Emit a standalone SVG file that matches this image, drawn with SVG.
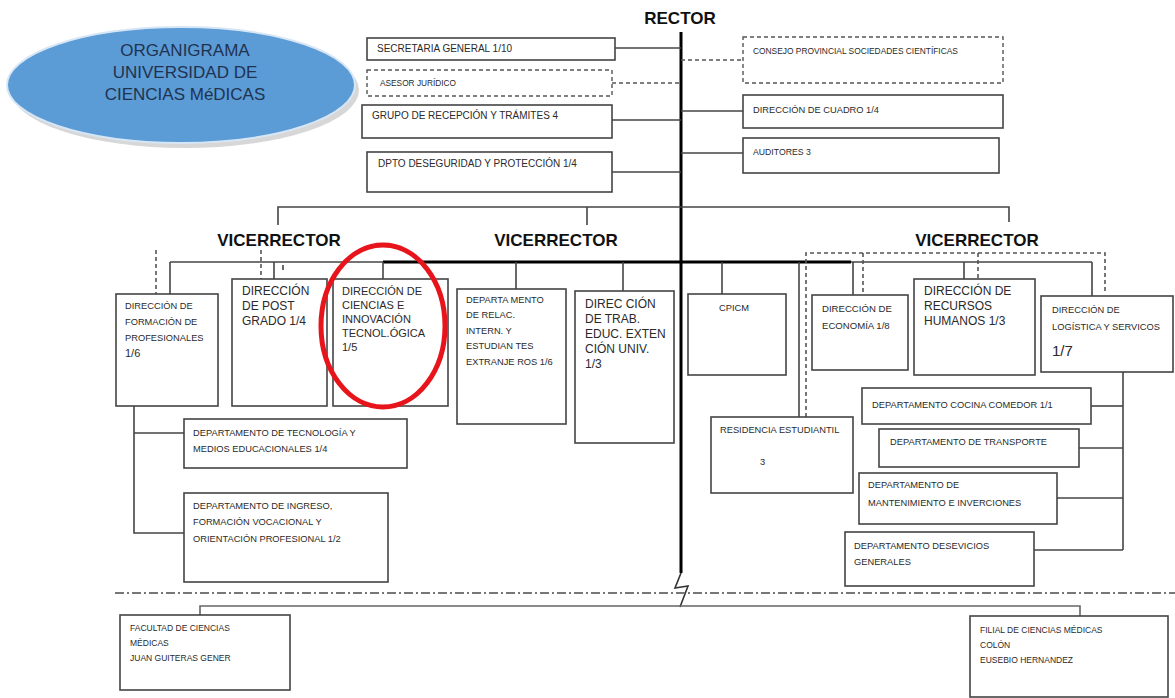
<svg xmlns="http://www.w3.org/2000/svg" width="1175" height="698" viewBox="0 0 1175 698">
<defs>
<style>
.bx{fill:#fff;stroke:#444;stroke-width:1.6}
.dbx{fill:#fff;stroke:#555;stroke-width:1.4;stroke-dasharray:4 3}
.t{font-family:"Liberation Sans",Arial,sans-serif;font-size:9.3px;fill:#2a2a2a}
.tm{font-family:"Liberation Sans",Arial,sans-serif;font-size:11px;fill:#2a2a2a}
.tl{font-family:"Liberation Sans",Arial,sans-serif;font-size:12px;fill:#2a2a2a}
.h{font-family:"Liberation Sans",Arial,sans-serif;font-size:17px;font-weight:bold;fill:#111;text-anchor:middle}
.c{fill:none;stroke:#444;stroke-width:1.6}
.cd{fill:none;stroke:#555;stroke-width:1.6;stroke-dasharray:4 3}
.cth{fill:none;stroke:#000;stroke-width:3}
</style>
</defs>
<rect width="1175" height="698" fill="#fff"/>

<g id="title">
<ellipse cx="185" cy="90" rx="174" ry="58" fill="#b0b0b0" opacity="0.5"/>
<ellipse cx="181" cy="85" rx="174" ry="58" fill="#5b9bd6" stroke="#d7e6f5" stroke-width="2"/>
<text x="185" y="56" text-anchor="middle" font-family="Liberation Sans, Arial, sans-serif" font-size="17" fill="#1f3350">ORGANIGRAMA</text>
<text x="185" y="78" text-anchor="middle" font-family="Liberation Sans, Arial, sans-serif" font-size="17" fill="#1f3350">UNIVERSIDAD DE</text>
<text x="185" y="100" text-anchor="middle" font-family="Liberation Sans, Arial, sans-serif" font-size="17" fill="#1f3350">CIENCIAS MéDICAS</text>
</g>

<g id="connectors">
<line class="cth" x1="681" y1="32" x2="681" y2="573"/>
<polyline class="c" points="681,573 675,588 688,586 680,607" style="stroke:#333"/>
<line class="c" x1="615" y1="48" x2="681" y2="48"/>
<line class="cd" x1="612" y1="83" x2="681" y2="83"/>
<line class="c" x1="612" y1="120" x2="681" y2="120"/>
<line class="c" x1="612" y1="172" x2="681" y2="172"/>
<line class="cd" x1="681" y1="60" x2="743" y2="60"/>
<line class="c" x1="681" y1="111" x2="743" y2="111"/>
<line class="c" x1="681" y1="153" x2="743" y2="153"/>
<polyline class="c" points="278,225 278,207 1009,207 1009,222"/>
<line class="c" x1="587" y1="207" x2="587" y2="225"/>
<line class="c" x1="170" y1="262" x2="383" y2="262"/>
<line class="cth" x1="383" y1="262" x2="851" y2="262"/>
<line class="c" x1="851" y1="262" x2="1092" y2="262"/>
<line class="c" x1="170" y1="262" x2="170" y2="294"/>
<line class="cd" x1="156" y1="250" x2="156" y2="294"/>
<line class="c" x1="274" y1="262" x2="274" y2="279"/>
<line class="cd" x1="261" y1="250" x2="261" y2="279"/>
<line class="c" x1="283" y1="265" x2="283" y2="270"/>
<line class="c" x1="383" y1="262" x2="383" y2="279"/>
<line class="c" x1="516" y1="262" x2="516" y2="289"/>
<line class="c" x1="623" y1="262" x2="623" y2="291"/>
<line class="c" x1="722" y1="262" x2="722" y2="294"/>
<line class="c" x1="799" y1="262" x2="799" y2="417"/>
<polyline class="cd" points="806,417 806,253 1105,253 1105,294"/>
<line class="c" x1="853" y1="262" x2="853" y2="295"/>
<line class="cd" x1="863" y1="253" x2="863" y2="295"/>
<line class="c" x1="964" y1="262" x2="964" y2="279"/>
<line class="cd" x1="978" y1="253" x2="978" y2="279"/>
<line class="c" x1="1092" y1="262" x2="1092" y2="296"/>
<polyline class="c" points="134,406 134,533 184,533"/>
<line class="c" x1="134" y1="433" x2="184" y2="433"/>
<line class="c" x1="1123" y1="372" x2="1123" y2="550"/>
<line class="c" x1="1091" y1="406" x2="1123" y2="406"/>
<line class="c" x1="1079" y1="448" x2="1123" y2="448"/>
<line class="c" x1="1057" y1="498" x2="1123" y2="498"/>
<line class="c" x1="1034" y1="550" x2="1123" y2="550"/>
<line x1="115" y1="593" x2="1175" y2="593" stroke="#777" stroke-width="2" stroke-dasharray="9 3 2 3"/>
<polyline class="c" points="200,615 200,606 1080,606 1080,616" style="stroke:#666"/>
</g>

<g id="rector"><text class="h" x="680" y="24">RECTOR</text></g>
<g id="vicerrector1"><text class="h" x="279" y="246">VICERRECTOR</text></g>
<g id="vicerrector2"><text class="h" x="556" y="246">VICERRECTOR</text></g>
<g id="vicerrector3"><text class="h" x="977" y="246">VICERRECTOR</text></g>

<g id="secretaria"><rect class="bx" x="367" y="38" width="248" height="22"/><text class="t" x="377" y="52" style="font-size:10px">SECRETARIA GENERAL 1/10</text></g>
<g id="asesor"><rect class="dbx" x="367" y="70" width="245" height="26"/><text class="t" x="380" y="86" style="font-size:8.3px">ASESOR JURÍDICO</text></g>
<g id="recepcion"><rect class="bx" x="362" y="105" width="250" height="33"/><text class="t" x="372" y="119" style="font-size:10px">GRUPO DE RECEPCIÓN Y TRÁMITES  4</text></g>
<g id="seguridad"><rect class="bx" x="367" y="152" width="245" height="40"/><text class="t" x="378" y="167" style="font-size:10px">DPTO DESEGURIDAD Y PROTECCIÓN 1/4</text></g>
<g id="consejo"><rect class="dbx" x="743" y="37" width="260" height="46"/><text class="t" x="753" y="54" style="font-size:8.4px">CONSEJO PROVINCIAL SOCIEDADES CIENTÍFICAS</text></g>
<g id="cuadro"><rect class="bx" x="743" y="95" width="260" height="33"/><text class="t" x="753" y="113">DIRECCIÓN DE CUADRO 1/4</text></g>
<g id="auditores"><rect class="bx" x="743" y="138" width="256" height="35"/><text class="t" x="753" y="155" style="font-size:8.7px">AUDITORES 3</text></g>

<g id="formacion"><rect class="bx" x="116" y="294" width="102" height="112"/>
<text class="t" x="125" y="309">DIRECCIÓN DE</text><text class="t" x="125" y="325">FORMACIÓN DE</text><text class="t" x="125" y="341">PROFESIONALES</text><text class="tm" x="125" y="357">1/6</text></g>
<g id="postgrado"><rect class="bx" x="232" y="279" width="95" height="127"/>
<text class="tl" x="242" y="295">DIRECCIÓN</text><text class="tl" x="242" y="310">DE  POST</text><text class="tl" x="242" y="325">GRADO 1/4</text></g>
<g id="ciencias"><rect class="bx" x="333" y="279" width="115" height="127"/>
<text class="tm" x="342" y="295">DIRECCIÓN DE</text><text class="tm" x="342" y="309">CIENCIAS E</text><text class="tm" x="342" y="323">INNOVACIÓN</text><text class="tm" x="342" y="337">TECNOL.ÓGICA</text><text class="tm" x="342" y="351">1/5</text></g>
<g id="relac"><rect class="bx" x="457" y="289" width="109" height="135"/>
<text class="t" x="466" y="303">DEPARTA MENTO</text><text class="t" x="466" y="318">DE RELAC.</text><text class="t" x="466" y="334">INTERN. Y</text><text class="t" x="466" y="349">ESTUDIAN TES</text><text class="t" x="466" y="365">EXTRANJE ROS 1/6</text></g>
<g id="trab"><rect class="bx" x="575" y="291" width="99" height="152"/>
<text class="tl" x="585" y="308">DIREC CIÓN</text><text class="tl" x="585" y="323">DE TRAB.</text><text class="tl" x="585" y="338">EDUC. EXTEN</text><text class="tl" x="585" y="353">CIÓN UNIV.</text><text class="tl" x="585" y="368">1/3</text></g>
<g id="cpicm"><rect class="bx" x="688" y="294" width="98" height="81"/><text class="t" x="719" y="311">CPICM</text></g>
<g id="economia"><rect class="bx" x="812" y="295" width="96" height="75"/>
<text class="t" x="822" y="312" style="font-size:9.6px">DIRECCIÓN DE</text><text class="t" x="822" y="329" style="font-size:9.6px">ECONOMÍA 1/8</text></g>
<g id="rrhh"><rect class="bx" x="914" y="279" width="121" height="96"/>
<text class="tl" x="924" y="295">DIRECCIÓN DE</text><text class="tl" x="924" y="310">RECURSOS</text><text class="tl" x="924" y="325">HUMANOS 1/3</text></g>
<g id="logistica"><rect class="bx" x="1041" y="296" width="132" height="76"/>
<text class="t" x="1052" y="313">DIRECCIÓN DE</text><text class="t" x="1052" y="330">LOGÍSTICA Y SERVICOS</text><text class="tl" x="1052" y="356" style="font-size:15px">1/7</text></g>
<g id="tecnologia"><rect class="bx" x="184" y="419" width="223" height="49"/>
<text class="t" x="193" y="436">DEPARTAMENTO DE TECNOLOGÍA Y</text><text class="t" x="193" y="452">MEDIOS EDUCACIONALES 1/4</text></g>
<g id="ingreso"><rect class="bx" x="184" y="493" width="204" height="89"/>
<text class="t" x="193" y="509">DEPARTAMENTO DE INGRESO,</text><text class="t" x="193" y="525">FORMACIÓN VOCACIONAL Y</text><text class="t" x="193" y="542">ORIENTACIÓN PROFESIONAL 1/2</text></g>
<g id="residencia"><rect class="bx" x="711" y="417" width="142" height="76"/>
<text class="t" x="720" y="433">RESIDENCIA ESTUDIANTIL</text><text class="t" x="760" y="465">3</text></g>
<g id="cocina"><rect class="bx" x="862" y="388" width="229" height="36"/><text class="t" x="872" y="408">DEPARTAMENTO COCINA COMEDOR 1/1</text></g>
<g id="transporte"><rect class="bx" x="879" y="429" width="200" height="38"/><text class="t" x="890" y="445">DEPARTAMENTO DE TRANSPORTE</text></g>
<g id="mantenimiento"><rect class="bx" x="859" y="473" width="198" height="51"/>
<text class="t" x="868" y="488">DEPARTAMENTO DE</text><text class="t" x="868" y="506">MANTENIMIENTO E INVERCIONES</text></g>
<g id="servicios"><rect class="bx" x="845" y="532" width="189" height="54"/>
<text class="t" x="854" y="549">DEPARTAMENTO DESEVICIOS</text><text class="t" x="854" y="565">GENERALES</text></g>
<g id="facultad"><rect class="bx" x="120" y="615" width="170" height="75"/>
<text class="t" x="130" y="631" style="font-size:8.5px">FACULTAD DE CIENCIAS</text><text class="t" x="130" y="646" style="font-size:8.5px">MÉDICAS</text><text class="t" x="130" y="661" style="font-size:8.5px">JUAN GUITERAS GENER</text></g>
<g id="filial"><rect class="bx" x="970" y="616" width="198" height="81"/>
<text class="t" x="980" y="633" style="font-size:8.5px">FILIAL  DE CIENCIAS MÉDICAS</text><text class="t" x="980" y="648" style="font-size:8.5px">COLÓN</text><text class="t" x="980" y="663" style="font-size:8.5px">EUSEBIO HERNANDEZ</text></g>

<g id="highlight"><ellipse cx="383" cy="326" rx="62" ry="81" fill="none" stroke="#e8141c" stroke-width="5"/></g>
</svg>
